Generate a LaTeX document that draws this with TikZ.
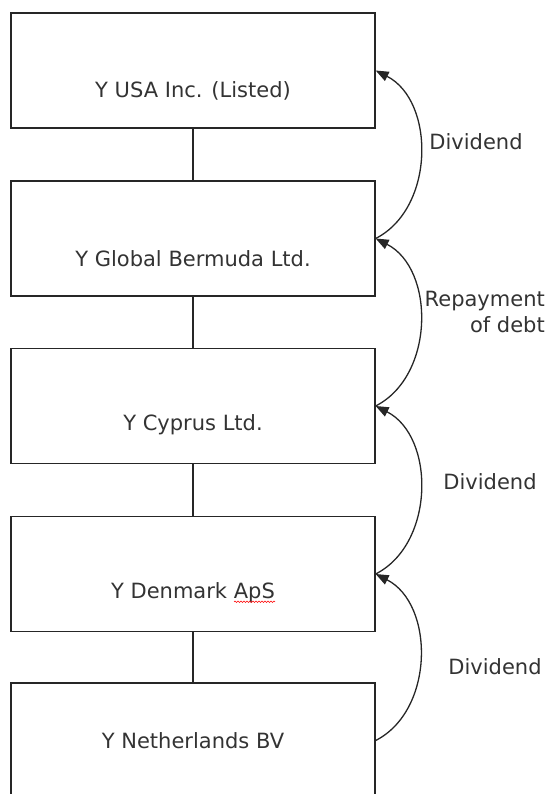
\documentclass[tikz,border=0pt]{standalone}
\usepackage{fontspec}
\setmainfont{DejaVu Sans}
\usetikzlibrary{arrows.meta, decorations.pathmorphing}

\tikzset{
	company/.style={draw=black!85, line width=1.3pt, minimum width=364pt, minimum height=115pt, inner sep=0pt},
	flow/.style={-{Triangle[length=13pt,width=10pt]}, draw=black!85, line width=1.3pt, bend right=63, looseness=1.02},
	tag/.style={align=right, inner sep=0pt}
}

\begin{document}
\begin{tikzpicture}[x=1pt, y=1pt, font=\fontsize{21}{26}\selectfont, text=black!80]
\useasboundingbox (0,0) rectangle (547,-794);
\clip (0,0) rectangle (547,-794);

% companies
\node [company] (usa) at (193,-70.5) {};
\node [company] (bermuda) at (193,-238.5) {};
\node [company] (cyprus) at (193,-406) {};
\node [company] (denmark) at (193,-574) {};
\node [company] (netherlands) at (193,-740.5) {};

\node [inner sep=0pt] (usatxt) at (193,-91) {Y USA Inc. (Listed)};
\node [inner sep=0pt] (bermudatxt) at (193,-259) {Y Global Bermuda Ltd.};
\node [inner sep=0pt] (cyprustxt) at (193,-425) {Y Cyprus Ltd.};
\node [inner sep=0pt] (denmarktxt) at (193,-593) {Y Denmark ApS};
\node [inner sep=0pt] (netherlandstxt) at (193,-741) {Y Netherlands BV};

\draw [red, line width=0.6pt, decorate, decoration={snake, amplitude=0.7pt, segment length=3pt}]
	([xshift=-41pt,yshift=-3pt]denmarktxt.base east) -- ([yshift=-3pt]denmarktxt.base east);

% ownership
\draw [line width=1.3pt, draw=black!85] (usa) -- (bermuda);
\draw [line width=1.3pt, draw=black!85] (bermuda) -- (cyprus);
\draw [line width=1.3pt, draw=black!85] (cyprus) -- (denmark);
\draw [line width=1.3pt, draw=black!85] (denmark) -- (netherlands);

% payments
\draw [flow] (bermuda.east) to (usa.east);
\draw [flow] (cyprus.east) to (bermuda.east);
\draw [flow] (denmark.east) to (cyprus.east);
\draw [flow] (netherlands.east) to (denmark.east);

\node [tag] (div1) at (476,-142) {Dividend};
\node [tag, anchor=north east] (repay) at (545,-291) {Repayment\\of debt};
\node [tag] (div2) at (490,-482) {Dividend};
\node [tag] (div3) at (495,-667) {Dividend};
\end{tikzpicture}
\end{document}
